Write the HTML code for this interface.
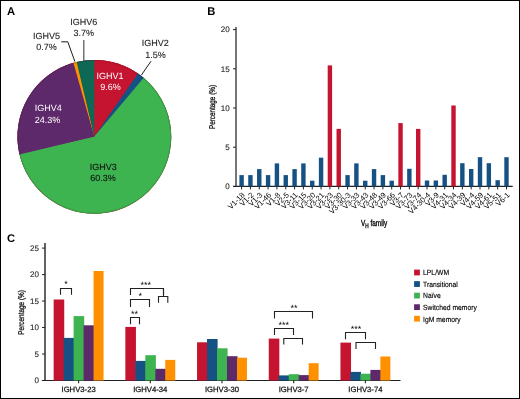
<!DOCTYPE html>
<html><head><meta charset="utf-8"><style>html,body{margin:0;padding:0;background:#fff;overflow:hidden}svg{display:block;will-change:transform}text{font-family:"Liberation Sans",sans-serif;text-rendering:geometricPrecision}</style></head>
<body><svg width="520" height="399" viewBox="0 0 520 399" font-family="Liberation Sans, sans-serif"><rect x="0.5" y="0.5" width="519" height="398" fill="none" stroke="#000" stroke-width="1"/>
<text x="7" y="14.8" font-size="11.2" text-anchor="start" fill="#000" font-weight="bold" >A</text>
<text x="207.3" y="14.7" font-size="11.2" text-anchor="start" fill="#000" font-weight="bold" >B</text>
<text x="7" y="242" font-size="11.2" text-anchor="start" fill="#000" font-weight="bold" >C</text>
<path d="M94.3,136.4 L94.350,59.950 A76.9,76.9 0 0 1 137.935,73.494 Z" fill="#c41430"/>
<path d="M94.3,136.4 L137.935,73.494 A76.9,76.9 0 0 1 143.698,77.872 Z" fill="#155183"/>
<path d="M94.3,136.4 L143.698,77.872 A76.9,76.9 0 1 1 19.487,154.432 Z" fill="#3db450"/>
<path d="M94.3,136.4 L19.487,154.432 A76.9,76.9 0 0 1 73.380,62.864 Z" fill="#5e296b"/>
<path d="M94.3,136.4 L73.380,62.864 A76.9,76.9 0 0 1 76.650,62.015 Z" fill="#ff9100"/>
<path d="M94.3,136.4 L76.650,62.015 A76.9,76.9 0 0 1 94.350,59.950 Z" fill="#0d6954"/>
<line x1="94.3" y1="136.4" x2="94.350" y2="60.250" stroke="#c41430" stroke-width="0.55"/>
<line x1="94.3" y1="136.4" x2="137.765" y2="73.741" stroke="#155183" stroke-width="0.55"/>
<line x1="94.3" y1="136.4" x2="143.506" y2="78.102" stroke="#3db450" stroke-width="0.55"/>
<line x1="94.3" y1="136.4" x2="19.779" y2="154.364" stroke="#5e296b" stroke-width="0.55"/>
<line x1="94.3" y1="136.4" x2="73.462" y2="63.153" stroke="#ff9100" stroke-width="0.55"/>
<line x1="94.3" y1="136.4" x2="76.719" y2="62.307" stroke="#0d6954" stroke-width="0.55"/>
<circle cx="94.35" cy="136.85" r="76.9" fill="#c41430"/>
<path d="M94.3,136.4 L94.350,59.950 A76.9,76.9 0 0 1 138.596,73.954 Z" fill="#c41430"/>
<path d="M94.3,136.4 L137.935,73.494 A76.9,76.9 0 0 1 144.313,78.392 Z" fill="#155183"/>
<path d="M94.3,136.4 L143.698,77.872 A76.9,76.9 0 1 1 19.307,153.647 Z" fill="#3db450"/>
<path d="M94.3,136.4 L19.487,154.432 A76.9,76.9 0 0 1 74.156,62.649 Z" fill="#5e296b"/>
<path d="M94.3,136.4 L73.380,62.864 A76.9,76.9 0 0 1 77.435,61.833 Z" fill="#ff9100"/>
<path d="M94.3,136.4 L76.650,62.015 A76.9,76.9 0 0 1 94.350,59.950 Z" fill="#0d6954"/>
<circle cx="94.35" cy="136.85" r="76.30" fill="none" stroke="#000" stroke-opacity="0.13" stroke-width="1"/>
<polyline points="61.3,41.8 67.8,41.8 74.9,61.6" fill="none" stroke="#1a1a1a" stroke-width="1"/>
<line x1="83.8" y1="40" x2="83.8" y2="61" stroke="#505050" stroke-width="1.2"/>
<line x1="151" y1="61.2" x2="141.3" y2="75.2" stroke="#1a1a1a" stroke-width="1"/>
<text x="83.7" y="24.9" font-size="9" text-anchor="middle" fill="#222" font-weight="normal" stroke="#222" stroke-width="0.1" >IGHV6</text>
<text x="83.7" y="36.2" font-size="9" text-anchor="middle" fill="#222" font-weight="normal" stroke="#222" stroke-width="0.1" >3.7%</text>
<text x="46.5" y="38.9" font-size="9" text-anchor="middle" fill="#222" font-weight="normal" stroke="#222" stroke-width="0.1" >IGHV5</text>
<text x="46.5" y="50.3" font-size="9" text-anchor="middle" fill="#222" font-weight="normal" stroke="#222" stroke-width="0.1" >0.7%</text>
<text x="155.2" y="46.4" font-size="9" text-anchor="middle" fill="#222" font-weight="normal" stroke="#222" stroke-width="0.1" >IGHV2</text>
<text x="155.4" y="57.6" font-size="9" text-anchor="middle" fill="#222" font-weight="normal" stroke="#222" stroke-width="0.1" >1.5%</text>
<text x="110" y="78.8" font-size="9" text-anchor="middle" fill="#fff" font-weight="normal" >IGHV1</text>
<text x="110.4" y="90.2" font-size="9" text-anchor="middle" fill="#fff" font-weight="normal" >9.6%</text>
<text x="34.8" y="111.1" font-size="9" text-anchor="start" fill="#fff" font-weight="normal" >IGHV4</text>
<text x="34.8" y="122.7" font-size="9" text-anchor="start" fill="#fff" font-weight="normal" >24.3%</text>
<text x="103.3" y="169.6" font-size="9" text-anchor="middle" fill="#111" font-weight="normal" stroke="#111" stroke-width="0.1" >IGHV3</text>
<text x="103" y="180.9" font-size="9" text-anchor="middle" fill="#111" font-weight="normal" stroke="#111" stroke-width="0.1" >60.3%</text>
<line x1="236.0" y1="27" x2="236.0" y2="186.4" stroke="#3c3c3c" stroke-width="1.4"/>
<line x1="233" y1="186.4" x2="512.7" y2="186.4" stroke="#222" stroke-width="1.2"/>
<line x1="233" y1="147.2" x2="236.0" y2="147.2" stroke="#222" stroke-width="1.0"/>
<line x1="233" y1="108.0" x2="236.0" y2="108.0" stroke="#222" stroke-width="1.0"/>
<line x1="233" y1="68.8" x2="236.0" y2="68.8" stroke="#222" stroke-width="1.0"/>
<line x1="233" y1="29.599999999999994" x2="236.0" y2="29.599999999999994" stroke="#222" stroke-width="1.0"/>
<text x="229.6" y="189.25" font-size="8" text-anchor="end" fill="#222" font-weight="normal" stroke="#222" stroke-width="0.1" >0</text>
<text x="229.6" y="150.04999999999998" font-size="8" text-anchor="end" fill="#222" font-weight="normal" stroke="#222" stroke-width="0.1" >5</text>
<text x="229.6" y="110.85" font-size="8" text-anchor="end" fill="#222" font-weight="normal" stroke="#222" stroke-width="0.1" >10</text>
<text x="229.6" y="71.64999999999999" font-size="8" text-anchor="end" fill="#222" font-weight="normal" stroke="#222" stroke-width="0.1" >15</text>
<text x="229.6" y="32.449999999999996" font-size="8" text-anchor="end" fill="#222" font-weight="normal" stroke="#222" stroke-width="0.1" >20</text>
<rect x="239.40" y="175.10" width="4.40" height="11.30" fill="#155183"/>
<line x1="241.6" y1="186.4" x2="241.6" y2="189.4" stroke="#222" stroke-width="1.0"/>
<text transform="translate(245.30,195.5) rotate(-45)" font-size="7.6" text-anchor="end" fill="#000">V1-18</text>
<rect x="248.23" y="175.10" width="4.40" height="11.30" fill="#155183"/>
<line x1="250.43" y1="186.4" x2="250.43" y2="189.4" stroke="#222" stroke-width="1.0"/>
<text transform="translate(254.13,195.5) rotate(-45)" font-size="7.6" text-anchor="end" fill="#000">V1-2</text>
<rect x="257.06" y="169.10" width="4.40" height="17.30" fill="#155183"/>
<line x1="259.26" y1="186.4" x2="259.26" y2="189.4" stroke="#222" stroke-width="1.0"/>
<text transform="translate(262.96,195.5) rotate(-45)" font-size="7.6" text-anchor="end" fill="#000">V1-3</text>
<rect x="265.89" y="175.10" width="4.40" height="11.30" fill="#155183"/>
<line x1="268.09" y1="186.4" x2="268.09" y2="189.4" stroke="#222" stroke-width="1.0"/>
<text transform="translate(271.79,195.5) rotate(-45)" font-size="7.6" text-anchor="end" fill="#000">V1-46</text>
<rect x="274.72" y="163.40" width="4.40" height="23.00" fill="#155183"/>
<line x1="276.92" y1="186.4" x2="276.92" y2="189.4" stroke="#222" stroke-width="1.0"/>
<text transform="translate(280.62,195.5) rotate(-45)" font-size="7.6" text-anchor="end" fill="#000">V1-8</text>
<rect x="283.55" y="175.10" width="4.40" height="11.30" fill="#155183"/>
<line x1="285.75" y1="186.4" x2="285.75" y2="189.4" stroke="#222" stroke-width="1.0"/>
<text transform="translate(289.45,195.5) rotate(-45)" font-size="7.6" text-anchor="end" fill="#000">V2-5</text>
<rect x="292.38" y="169.10" width="4.40" height="17.30" fill="#155183"/>
<line x1="294.58" y1="186.4" x2="294.58" y2="189.4" stroke="#222" stroke-width="1.0"/>
<text transform="translate(298.28,195.5) rotate(-45)" font-size="7.6" text-anchor="end" fill="#000">V3-11</text>
<rect x="301.21" y="163.40" width="4.40" height="23.00" fill="#155183"/>
<line x1="303.40999999999997" y1="186.4" x2="303.40999999999997" y2="189.4" stroke="#222" stroke-width="1.0"/>
<text transform="translate(307.11,195.5) rotate(-45)" font-size="7.6" text-anchor="end" fill="#000">V3-15</text>
<rect x="310.04" y="180.70" width="4.40" height="5.70" fill="#155183"/>
<line x1="312.24" y1="186.4" x2="312.24" y2="189.4" stroke="#222" stroke-width="1.0"/>
<text transform="translate(315.94,195.5) rotate(-45)" font-size="7.6" text-anchor="end" fill="#000">V3-20</text>
<rect x="318.87" y="157.70" width="4.40" height="28.70" fill="#155183"/>
<line x1="321.07" y1="186.4" x2="321.07" y2="189.4" stroke="#222" stroke-width="1.0"/>
<text transform="translate(324.77,195.5) rotate(-45)" font-size="7.6" text-anchor="end" fill="#000">V3-21</text>
<rect x="327.70" y="65.40" width="4.40" height="121.00" fill="#c41430"/>
<line x1="329.9" y1="186.4" x2="329.9" y2="189.4" stroke="#222" stroke-width="1.0"/>
<text transform="translate(333.60,195.5) rotate(-45)" font-size="7.6" text-anchor="end" fill="#000">V3-23</text>
<rect x="336.53" y="128.85" width="4.40" height="57.55" fill="#c41430"/>
<line x1="338.73" y1="186.4" x2="338.73" y2="189.4" stroke="#222" stroke-width="1.0"/>
<text transform="translate(342.43,195.5) rotate(-45)" font-size="7.6" text-anchor="end" fill="#000">V3-30</text>
<rect x="345.36" y="175.10" width="4.40" height="11.30" fill="#155183"/>
<line x1="347.56" y1="186.4" x2="347.56" y2="189.4" stroke="#222" stroke-width="1.0"/>
<text transform="translate(351.26,195.5) rotate(-45)" font-size="7.6" text-anchor="end" fill="#000">V3-30-3</text>
<rect x="354.19" y="163.40" width="4.40" height="23.00" fill="#155183"/>
<line x1="356.39" y1="186.4" x2="356.39" y2="189.4" stroke="#222" stroke-width="1.0"/>
<text transform="translate(360.09,195.5) rotate(-45)" font-size="7.6" text-anchor="end" fill="#000">V3-33</text>
<rect x="363.02" y="180.70" width="4.40" height="5.70" fill="#155183"/>
<line x1="365.22" y1="186.4" x2="365.22" y2="189.4" stroke="#222" stroke-width="1.0"/>
<text transform="translate(368.92,195.5) rotate(-45)" font-size="7.6" text-anchor="end" fill="#000">V3-43</text>
<rect x="371.85" y="169.10" width="4.40" height="17.30" fill="#155183"/>
<line x1="374.04999999999995" y1="186.4" x2="374.04999999999995" y2="189.4" stroke="#222" stroke-width="1.0"/>
<text transform="translate(377.75,195.5) rotate(-45)" font-size="7.6" text-anchor="end" fill="#000">V3-48</text>
<rect x="380.68" y="175.10" width="4.40" height="11.30" fill="#155183"/>
<line x1="382.88" y1="186.4" x2="382.88" y2="189.4" stroke="#222" stroke-width="1.0"/>
<text transform="translate(386.58,195.5) rotate(-45)" font-size="7.6" text-anchor="end" fill="#000">V3-49</text>
<rect x="389.51" y="180.70" width="4.40" height="5.70" fill="#155183"/>
<line x1="391.71000000000004" y1="186.4" x2="391.71000000000004" y2="189.4" stroke="#222" stroke-width="1.0"/>
<text transform="translate(395.41,195.5) rotate(-45)" font-size="7.6" text-anchor="end" fill="#000">V3-66</text>
<rect x="398.34" y="123.10" width="4.40" height="63.30" fill="#c41430"/>
<line x1="400.53999999999996" y1="186.4" x2="400.53999999999996" y2="189.4" stroke="#222" stroke-width="1.0"/>
<text transform="translate(404.24,195.5) rotate(-45)" font-size="7.6" text-anchor="end" fill="#000">V3-7</text>
<rect x="407.17" y="168.80" width="4.40" height="17.60" fill="#155183"/>
<line x1="409.37" y1="186.4" x2="409.37" y2="189.4" stroke="#222" stroke-width="1.0"/>
<text transform="translate(413.07,195.5) rotate(-45)" font-size="7.6" text-anchor="end" fill="#000">V3-73</text>
<rect x="416.00" y="128.90" width="4.40" height="57.50" fill="#c41430"/>
<line x1="418.2" y1="186.4" x2="418.2" y2="189.4" stroke="#222" stroke-width="1.0"/>
<text transform="translate(421.90,195.5) rotate(-45)" font-size="7.6" text-anchor="end" fill="#000">V3-74</text>
<rect x="424.83" y="180.50" width="4.40" height="5.90" fill="#155183"/>
<line x1="427.03" y1="186.4" x2="427.03" y2="189.4" stroke="#222" stroke-width="1.0"/>
<text transform="translate(430.73,195.5) rotate(-45)" font-size="7.6" text-anchor="end" fill="#000">V4-30-4</text>
<rect x="433.66" y="180.50" width="4.40" height="5.90" fill="#155183"/>
<line x1="435.86" y1="186.4" x2="435.86" y2="189.4" stroke="#222" stroke-width="1.0"/>
<text transform="translate(439.56,195.5) rotate(-45)" font-size="7.6" text-anchor="end" fill="#000">V3-9</text>
<rect x="442.49" y="174.80" width="4.40" height="11.60" fill="#155183"/>
<line x1="444.69" y1="186.4" x2="444.69" y2="189.4" stroke="#222" stroke-width="1.0"/>
<text transform="translate(448.39,195.5) rotate(-45)" font-size="7.6" text-anchor="end" fill="#000">V4-31</text>
<rect x="451.32" y="105.50" width="4.40" height="80.90" fill="#c41430"/>
<line x1="453.52" y1="186.4" x2="453.52" y2="189.4" stroke="#222" stroke-width="1.0"/>
<text transform="translate(457.22,195.5) rotate(-45)" font-size="7.6" text-anchor="end" fill="#000">V4-34</text>
<rect x="460.15" y="163.20" width="4.40" height="23.20" fill="#155183"/>
<line x1="462.35" y1="186.4" x2="462.35" y2="189.4" stroke="#222" stroke-width="1.0"/>
<text transform="translate(466.05,195.5) rotate(-45)" font-size="7.6" text-anchor="end" fill="#000">V4-39</text>
<rect x="468.98" y="169.00" width="4.40" height="17.40" fill="#155183"/>
<line x1="471.18" y1="186.4" x2="471.18" y2="189.4" stroke="#222" stroke-width="1.0"/>
<text transform="translate(474.88,195.5) rotate(-45)" font-size="7.6" text-anchor="end" fill="#000">V4-4</text>
<rect x="477.81" y="157.20" width="4.40" height="29.20" fill="#155183"/>
<line x1="480.01" y1="186.4" x2="480.01" y2="189.4" stroke="#222" stroke-width="1.0"/>
<text transform="translate(483.71,195.5) rotate(-45)" font-size="7.6" text-anchor="end" fill="#000">V4-59</text>
<rect x="486.64" y="163.20" width="4.40" height="23.20" fill="#155183"/>
<line x1="488.84000000000003" y1="186.4" x2="488.84000000000003" y2="189.4" stroke="#222" stroke-width="1.0"/>
<text transform="translate(492.54,195.5) rotate(-45)" font-size="7.6" text-anchor="end" fill="#000">V4-61</text>
<rect x="495.47" y="180.20" width="4.40" height="6.20" fill="#155183"/>
<line x1="497.66999999999996" y1="186.4" x2="497.66999999999996" y2="189.4" stroke="#222" stroke-width="1.0"/>
<text transform="translate(501.37,195.5) rotate(-45)" font-size="7.6" text-anchor="end" fill="#000">V5-51</text>
<rect x="504.30" y="157.20" width="4.40" height="29.20" fill="#155183"/>
<line x1="506.5" y1="186.4" x2="506.5" y2="189.4" stroke="#222" stroke-width="1.0"/>
<text transform="translate(510.20,195.5) rotate(-45)" font-size="7.6" text-anchor="end" fill="#000">V6-1</text>
<text transform="translate(215.1,107) rotate(-90)" font-size="8.4" text-anchor="middle" fill="#111" stroke="#111" stroke-width="0.3" textLength="44" lengthAdjust="spacingAndGlyphs">Percentage (%)</text>
<text x="361.1" y="225.8" font-size="8.9" fill="#111" stroke="#111" stroke-width="0.4" transform="translate(361.1,0) scale(0.72,1) translate(-361.1,0)">V<tspan font-size="6.5" dy="2">H</tspan><tspan dy="-2"> family</tspan></text>
<line x1="45" y1="243.1" x2="45" y2="380.5" stroke="#3c3c3c" stroke-width="1.6"/>
<line x1="41.8" y1="380.5" x2="400.5" y2="380.5" stroke="#222" stroke-width="1.2"/>
<line x1="42" y1="354.02" x2="45" y2="354.02" stroke="#222" stroke-width="1.0"/>
<line x1="42" y1="327.54" x2="45" y2="327.54" stroke="#222" stroke-width="1.0"/>
<line x1="42" y1="301.06" x2="45" y2="301.06" stroke="#222" stroke-width="1.0"/>
<line x1="42" y1="274.58" x2="45" y2="274.58" stroke="#222" stroke-width="1.0"/>
<line x1="42" y1="248.1" x2="45" y2="248.1" stroke="#222" stroke-width="1.0"/>
<text x="38.9" y="383.35" font-size="8" text-anchor="end" fill="#222" font-weight="normal" stroke="#222" stroke-width="0.1" >0</text>
<text x="38.9" y="356.87" font-size="8" text-anchor="end" fill="#222" font-weight="normal" stroke="#222" stroke-width="0.1" >5</text>
<text x="38.9" y="330.39000000000004" font-size="8" text-anchor="end" fill="#222" font-weight="normal" stroke="#222" stroke-width="0.1" >10</text>
<text x="38.9" y="303.91" font-size="8" text-anchor="end" fill="#222" font-weight="normal" stroke="#222" stroke-width="0.1" >15</text>
<text x="38.9" y="277.43" font-size="8" text-anchor="end" fill="#222" font-weight="normal" stroke="#222" stroke-width="0.1" >20</text>
<text x="38.9" y="250.95" font-size="8" text-anchor="end" fill="#222" font-weight="normal" stroke="#222" stroke-width="0.1" >25</text>
<rect x="53.65" y="299.50" width="10.58" height="81.00" fill="#c41430"/>
<rect x="63.63" y="337.90" width="10.58" height="42.60" fill="#155183"/>
<rect x="73.61" y="316.10" width="10.58" height="64.40" fill="#3db450"/>
<rect x="83.59" y="325.30" width="10.58" height="55.20" fill="#5e296b"/>
<rect x="93.57" y="271.00" width="9.98" height="109.50" fill="#ff9100"/>
<line x1="78.6" y1="380.5" x2="78.6" y2="383.3" stroke="#222" stroke-width="1.1"/>
<text x="78.6" y="392.2" font-size="7.7" text-anchor="middle" fill="#111" font-weight="normal" stroke="#111" stroke-width="0.25" >IGHV3-23</text>
<rect x="125.35" y="326.90" width="10.58" height="53.60" fill="#c41430"/>
<rect x="135.33" y="360.90" width="10.58" height="19.60" fill="#155183"/>
<rect x="145.31" y="355.20" width="10.58" height="25.30" fill="#3db450"/>
<rect x="155.29" y="368.80" width="10.58" height="11.70" fill="#5e296b"/>
<rect x="165.27" y="359.90" width="9.98" height="20.60" fill="#ff9100"/>
<line x1="150.3" y1="380.5" x2="150.3" y2="383.3" stroke="#222" stroke-width="1.1"/>
<text x="150.3" y="392.2" font-size="7.7" text-anchor="middle" fill="#111" font-weight="normal" stroke="#111" stroke-width="0.25" >IGHV4-34</text>
<rect x="197.05" y="342.30" width="10.58" height="38.20" fill="#c41430"/>
<rect x="207.03" y="339.00" width="10.58" height="41.50" fill="#155183"/>
<rect x="217.01" y="348.30" width="10.58" height="32.20" fill="#3db450"/>
<rect x="226.99" y="356.20" width="10.58" height="24.30" fill="#5e296b"/>
<rect x="236.97" y="357.70" width="9.98" height="22.80" fill="#ff9100"/>
<line x1="222.0" y1="380.5" x2="222.0" y2="383.3" stroke="#222" stroke-width="1.1"/>
<text x="222.0" y="392.2" font-size="7.7" text-anchor="middle" fill="#111" font-weight="normal" stroke="#111" stroke-width="0.25" >IGHV3-30</text>
<rect x="268.75" y="338.60" width="10.58" height="41.90" fill="#c41430"/>
<rect x="278.73" y="375.40" width="10.58" height="5.10" fill="#155183"/>
<rect x="288.71" y="374.20" width="10.58" height="6.30" fill="#3db450"/>
<rect x="298.69" y="375.10" width="10.58" height="5.40" fill="#5e296b"/>
<rect x="308.67" y="363.20" width="9.98" height="17.30" fill="#ff9100"/>
<line x1="293.7" y1="380.5" x2="293.7" y2="383.3" stroke="#222" stroke-width="1.1"/>
<text x="293.7" y="392.2" font-size="7.7" text-anchor="middle" fill="#111" font-weight="normal" stroke="#111" stroke-width="0.25" >IGHV3-7</text>
<rect x="340.45" y="342.60" width="10.58" height="37.90" fill="#c41430"/>
<rect x="350.43" y="371.90" width="10.58" height="8.60" fill="#155183"/>
<rect x="360.41" y="373.70" width="10.58" height="6.80" fill="#3db450"/>
<rect x="370.39" y="369.90" width="10.58" height="10.60" fill="#5e296b"/>
<rect x="380.37" y="356.50" width="9.98" height="24.00" fill="#ff9100"/>
<line x1="365.4" y1="380.5" x2="365.4" y2="383.3" stroke="#222" stroke-width="1.1"/>
<text x="365.4" y="392.2" font-size="7.7" text-anchor="middle" fill="#111" font-weight="normal" stroke="#111" stroke-width="0.25" >IGHV3-74</text>
<text transform="translate(23.9,312.4) rotate(-90)" font-size="8.4" text-anchor="middle" fill="#111" stroke="#111" stroke-width="0.3" textLength="44.5" lengthAdjust="spacingAndGlyphs">Percentage (%)</text>
<polyline points="60.5,294.8 60.5,288.5 71.5,288.5 71.5,294.8" fill="none" stroke="#222" stroke-width="1.1"/>
<text x="66" y="287.32" font-size="9" text-anchor="middle" fill="#000">*</text>
<polyline points="130.5,324.3 130.5,317.5 139.5,317.5 139.5,324.3" fill="none" stroke="#222" stroke-width="1.1"/>
<text x="134.4" y="316.92" font-size="9" text-anchor="middle" fill="#000">**</text>
<polyline points="130.5,307 130.5,299.5 149.5,299.5 149.5,307" fill="none" stroke="#222" stroke-width="1.1"/>
<text x="140.3" y="298.52" font-size="9" text-anchor="middle" fill="#000">*</text>
<polyline points="130.5,295 130.5,288.5 163.5,288.5 163.5,295" fill="none" stroke="#222" stroke-width="1.1"/>
<line x1="163.5" y1="288.5" x2="163.5" y2="296.5" stroke="#222" stroke-width="1.1"/>
<polyline points="158.5,302.8 158.5,296.5 167.8,296.5 167.8,302.8" fill="none" stroke="#222" stroke-width="1.1"/>
<text x="145.8" y="288.02" font-size="9" text-anchor="middle" fill="#000">***</text>
<polyline points="274.5,318.5 274.5,311.5 312.5,311.5 312.5,318.5" fill="none" stroke="#222" stroke-width="1.1"/>
<text x="293.9" y="311.02" font-size="9" text-anchor="middle" fill="#000">**</text>
<polyline points="274.5,335 274.5,328.5 293.5,328.5 293.5,335" fill="none" stroke="#222" stroke-width="1.1"/>
<text x="283.7" y="327.82" font-size="9" text-anchor="middle" fill="#000">***</text>
<polyline points="283.8,344.5 283.8,338.5 302.5,338.5 302.5,344.5" fill="none" stroke="#222" stroke-width="1.1"/>
<polyline points="345.5,339.2 345.5,332.5 365.5,332.5 365.5,339.2" fill="none" stroke="#222" stroke-width="1.1"/>
<text x="356" y="332.12" font-size="9" text-anchor="middle" fill="#000">***</text>
<polyline points="356,349 356,342.5 375.5,342.5 375.5,349" fill="none" stroke="#222" stroke-width="1.1"/>
<rect x="414.10" y="269.60" width="5.80" height="5.80" fill="#c41430"/>
<text transform="translate(423.1,275.30) scale(0.89,1)" font-size="7.6" fill="#000" stroke="#000" stroke-width="0.15">LPL/WM</text>
<rect x="414.10" y="281.15" width="5.80" height="5.80" fill="#155183"/>
<text transform="translate(423.1,286.85) scale(0.89,1)" font-size="7.6" fill="#000" stroke="#000" stroke-width="0.15">Transitional</text>
<rect x="414.10" y="292.70" width="5.80" height="5.80" fill="#3db450"/>
<text transform="translate(423.1,298.40) scale(0.89,1)" font-size="7.6" fill="#000" stroke="#000" stroke-width="0.15">Na&#239;ve</text>
<rect x="414.10" y="304.25" width="5.80" height="5.80" fill="#5e296b"/>
<text transform="translate(423.1,309.95) scale(0.89,1)" font-size="7.6" fill="#000" stroke="#000" stroke-width="0.15">Switched memory</text>
<rect x="414.10" y="315.80" width="5.80" height="5.80" fill="#ff9100"/>
<text transform="translate(423.1,321.50) scale(0.89,1)" font-size="7.6" fill="#000" stroke="#000" stroke-width="0.15">IgM memory</text></svg></body></html>
